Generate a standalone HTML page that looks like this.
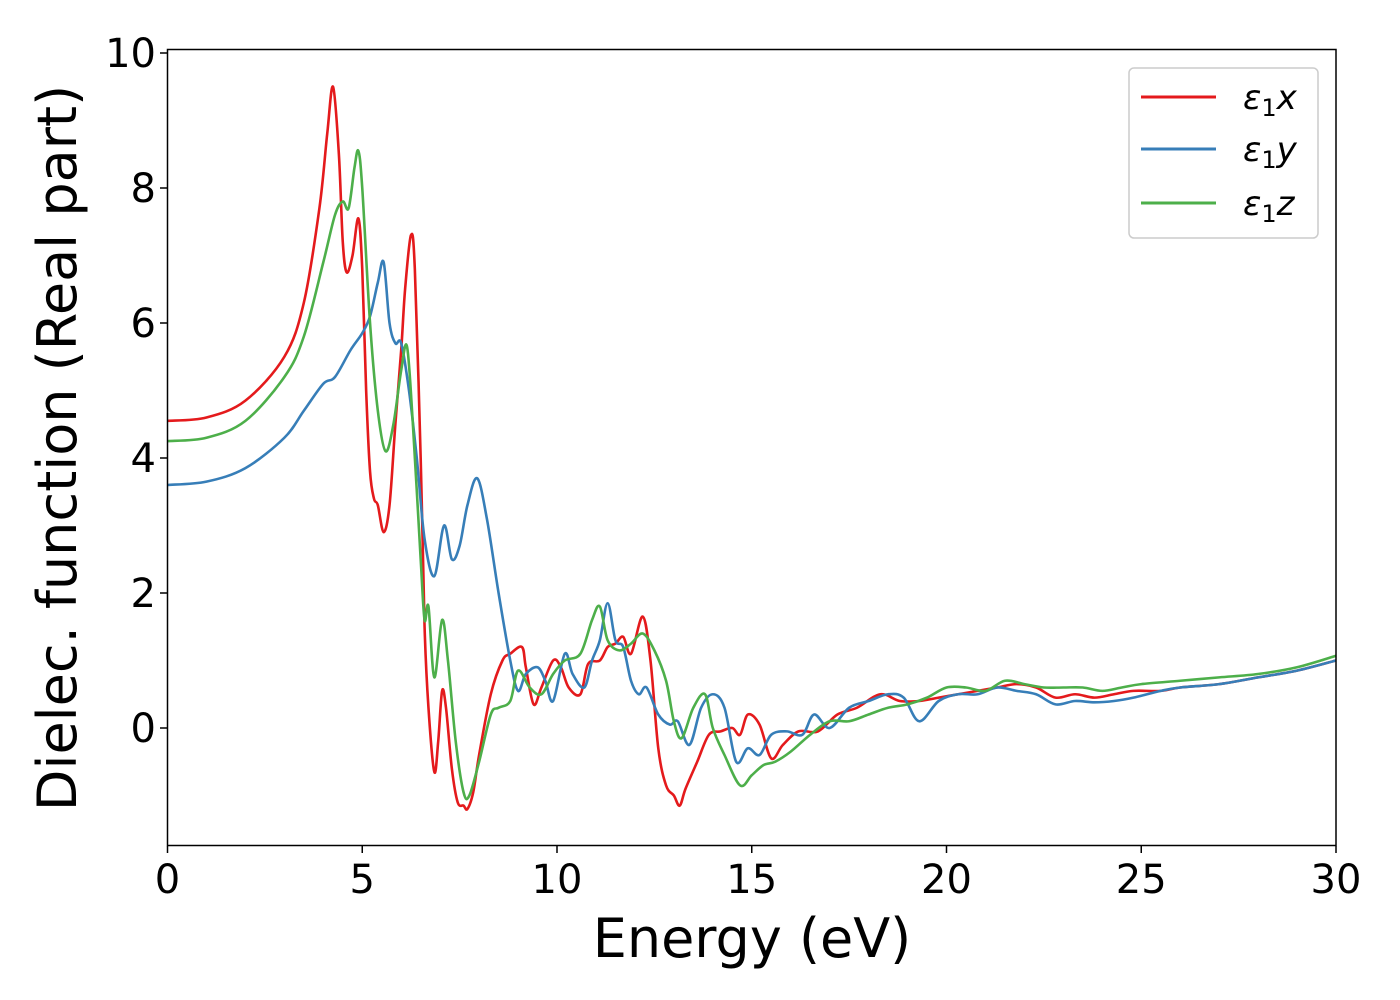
<!DOCTYPE html>
<html><head><meta charset="utf-8"><style>
html,body{margin:0;padding:0;background:#fff;}
svg{display:block;font-family:"DejaVu Sans","Liberation Sans",sans-serif;}
</style></head><body>
<svg id="chart" width="1400" height="1000" xmlns="http://www.w3.org/2000/svg">
<rect width="1400" height="1000" fill="#fff"/>
<g id="series"></g>
<rect x="167.5" y="49.5" width="1168.5" height="796" fill="none" stroke="#000" stroke-width="1.5"/>
<g id="xticks"></g>
<g id="yticks"></g>
<text x="752" y="957" font-size="54" text-anchor="middle">Energy (eV)</text>
<text transform="translate(76,448) rotate(-90)" font-size="54" text-anchor="middle">Dielec. function (Real part)</text>
<g>
<rect x="1129" y="68" width="189" height="170" rx="5" fill="#fff" fill-opacity="0.8" stroke="#ccc" stroke-width="1.5"/>
<line x1="1141" y1="97" x2="1216" y2="97" stroke="#e41a1c" stroke-width="3"/>
<text x="1243" y="109" font-size="34" font-style="italic">ε<tspan font-style="normal" font-size="24" dy="7">1</tspan><tspan dy="-7">x</tspan></text>
<line x1="1141" y1="149" x2="1216" y2="149" stroke="#377eb8" stroke-width="3"/>
<text x="1243" y="161" font-size="34" font-style="italic">ε<tspan font-style="normal" font-size="24" dy="7">1</tspan><tspan dy="-7">y</tspan></text>
<line x1="1141" y1="203" x2="1216" y2="203" stroke="#4daf4a" stroke-width="3"/>
<text x="1243" y="215" font-size="34" font-style="italic">ε<tspan font-style="normal" font-size="24" dy="7">1</tspan><tspan dy="-7">z</tspan></text>
</g>
</svg>
<script>
const xTicks=[0,5,10,15,20,25,30];
const yTicks=[0,2,4,6,8,10];
const redE=[0,1,2,3,3.5,3.9,4.1,4.25,4.4,4.5,4.6,4.75,4.9,5.0,5.1,5.2,5.3,5.4,5.55,5.7,5.85,6.0,6.1,6.25,6.35,6.5,6.6,6.7,6.85,6.95,7.05,7.15,7.3,7.45,7.6,7.7,7.85,8.0,8.3,8.6,8.8,9.1,9.2,9.4,9.6,9.9,10.1,10.3,10.6,10.8,11.1,11.3,11.5,11.7,11.9,12.2,12.4,12.6,12.8,13.0,13.15,13.3,13.6,13.9,14.2,14.5,14.7,14.9,15.2,15.5,15.8,16.2,16.7,17.2,17.7,18.3,18.8,19.3,19.8,20.3,20.8,21.3,21.8,22.3,22.8,23.3,23.8,24.3,24.8,25.5,26,27,28,29,30];
const redV=[4.55,4.6,4.85,5.5,6.3,7.7,8.8,9.5,8.5,7.2,6.75,7.0,7.55,6.8,5.0,3.8,3.4,3.3,2.9,3.3,4.5,5.6,6.5,7.3,6.8,4.0,1.5,0.3,-0.65,-0.2,0.55,0.3,-0.6,-1.1,-1.15,-1.2,-0.95,-0.4,0.5,1.0,1.1,1.2,0.9,0.35,0.6,1.0,0.9,0.6,0.5,0.95,1.0,1.2,1.25,1.35,1.1,1.65,1.0,-0.3,-0.85,-1.0,-1.15,-0.9,-0.5,-0.1,-0.05,0.0,-0.1,0.2,0.05,-0.45,-0.25,-0.05,-0.05,0.2,0.3,0.5,0.4,0.4,0.45,0.5,0.55,0.6,0.65,0.6,0.45,0.5,0.45,0.5,0.55,0.55,0.6,0.65,0.75,0.85,1.0];
const blueE=[0,1,2,3,3.5,4.0,4.3,4.7,5.0,5.2,5.4,5.55,5.7,5.85,6.0,6.2,6.4,6.6,6.85,7.1,7.3,7.5,7.7,7.95,8.2,8.5,8.8,9.0,9.2,9.5,9.7,9.9,10.2,10.4,10.7,10.9,11.1,11.3,11.5,11.7,11.9,12.1,12.3,12.6,12.9,13.1,13.4,13.7,14.0,14.3,14.6,14.9,15.2,15.5,15.9,16.3,16.6,17.0,17.5,18.0,18.5,18.9,19.3,19.8,20.3,20.8,21.3,21.8,22.3,22.8,23.3,23.8,24.3,24.8,25.5,26,27,28,29,30];
const blueV=[3.6,3.65,3.85,4.3,4.7,5.1,5.2,5.6,5.85,6.1,6.6,6.9,6.0,5.7,5.7,5.0,4.0,2.8,2.25,3.0,2.5,2.7,3.3,3.7,3.1,2.0,1.0,0.55,0.8,0.9,0.7,0.4,1.1,0.8,0.6,1.0,1.3,1.85,1.3,1.2,0.7,0.5,0.6,0.2,0.05,0.1,-0.25,0.3,0.5,0.3,-0.5,-0.3,-0.4,-0.1,-0.05,-0.1,0.2,0.0,0.3,0.4,0.5,0.45,0.1,0.4,0.5,0.5,0.6,0.55,0.5,0.35,0.4,0.38,0.4,0.45,0.55,0.6,0.65,0.75,0.85,1.0];
const greenE=[0,1,2,3,3.5,4.0,4.3,4.5,4.65,4.8,4.9,5.0,5.2,5.4,5.6,5.8,6.0,6.15,6.3,6.5,6.6,6.7,6.85,7.05,7.2,7.4,7.6,7.75,8.0,8.3,8.5,8.8,9.0,9.3,9.6,9.9,10.2,10.6,10.9,11.1,11.3,11.6,11.9,12.2,12.5,12.8,13.0,13.2,13.5,13.8,14.0,14.3,14.7,15.0,15.3,15.6,16.0,16.5,17.0,17.5,18.0,18.5,19.0,19.5,20.0,20.5,21.0,21.5,22.0,22.5,23.0,23.5,24,24.5,25,26,27,28,29,30];
const greenV=[4.25,4.3,4.55,5.2,5.8,6.9,7.6,7.8,7.7,8.3,8.55,8.0,6.0,4.7,4.1,4.5,5.3,5.65,4.5,2.5,1.6,1.8,0.75,1.6,1.0,-0.2,-0.95,-1.0,-0.5,0.2,0.3,0.4,0.85,0.6,0.5,0.8,1.0,1.1,1.6,1.8,1.3,1.15,1.25,1.4,1.15,0.7,0.1,-0.15,0.3,0.5,0.0,-0.4,-0.85,-0.7,-0.55,-0.5,-0.35,-0.1,0.1,0.1,0.2,0.3,0.35,0.45,0.6,0.6,0.55,0.7,0.65,0.6,0.6,0.6,0.55,0.6,0.65,0.7,0.75,0.8,0.9,1.07];

const X0=167.5,X1=1336,Y0=728,YS=67.5;
function xs(v){return X0+(X1-X0)*v/30;}
function ys(v){return Y0-v*YS;}
const NS="http://www.w3.org/2000/svg";
function path(E,V){
  const p=E.map((e,i)=>[xs(e),ys(V[i])]);
  let d="M"+p[0][0]+","+p[0][1];
  for(let i=0;i<p.length-1;i++){
    const a=p[Math.max(i-1,0)],b=p[i],c=p[i+1],n=p[Math.min(i+2,p.length-1)];
    const c1=[b[0]+(c[0]-a[0])/6,b[1]+(c[1]-a[1])/6];
    const c2=[c[0]-(n[0]-b[0])/6,c[1]-(n[1]-b[1])/6];
    d+=" C"+c1+" "+c2+" "+c;
  }
  return d;
}
const g=document.getElementById('series');
[[redE,redV,'#e41a1c','line-eps1-x'],[blueE,blueV,'#377eb8','line-eps1-y'],[greenE,greenV,'#4daf4a','line-eps1-z']].forEach(s=>{
  const el=document.createElementNS(NS,'path');
  el.setAttribute('d',path(s[0],s[1]));
  el.setAttribute('fill','none');el.setAttribute('stroke',s[2]);el.setAttribute('stroke-width','2.6');
  
  
  g.appendChild(el);
});
const gx=document.getElementById('xticks');
xTicks.forEach(t=>{
  const l=document.createElementNS(NS,'line');
  l.setAttribute('x1',xs(t));l.setAttribute('x2',xs(t));l.setAttribute('y1',846);l.setAttribute('y2',853);l.setAttribute('stroke','#000');l.setAttribute('stroke-width','1.5');
  
  
  gx.appendChild(l);
  const tx=document.createElementNS(NS,'text');
  tx.setAttribute('x',xs(t));tx.setAttribute('y',893);tx.setAttribute('font-size','40');tx.setAttribute('text-anchor','middle');
  tx.textContent=t;
  
  
  gx.appendChild(tx);
});
const gy=document.getElementById('yticks');
yTicks.forEach(t=>{
  const l=document.createElementNS(NS,'line');
  l.setAttribute('x1',160);l.setAttribute('x2',167);l.setAttribute('y1',ys(t));l.setAttribute('y2',ys(t));l.setAttribute('stroke','#000');l.setAttribute('stroke-width','1.5');
  
  
  gy.appendChild(l);
  const tx=document.createElementNS(NS,'text');
  tx.setAttribute('x',156);tx.setAttribute('y',ys(t)+14);tx.setAttribute('font-size','40');tx.setAttribute('text-anchor','end');
  tx.textContent=t;
  
  
  gy.appendChild(tx);
});
</script>
</body></html>
